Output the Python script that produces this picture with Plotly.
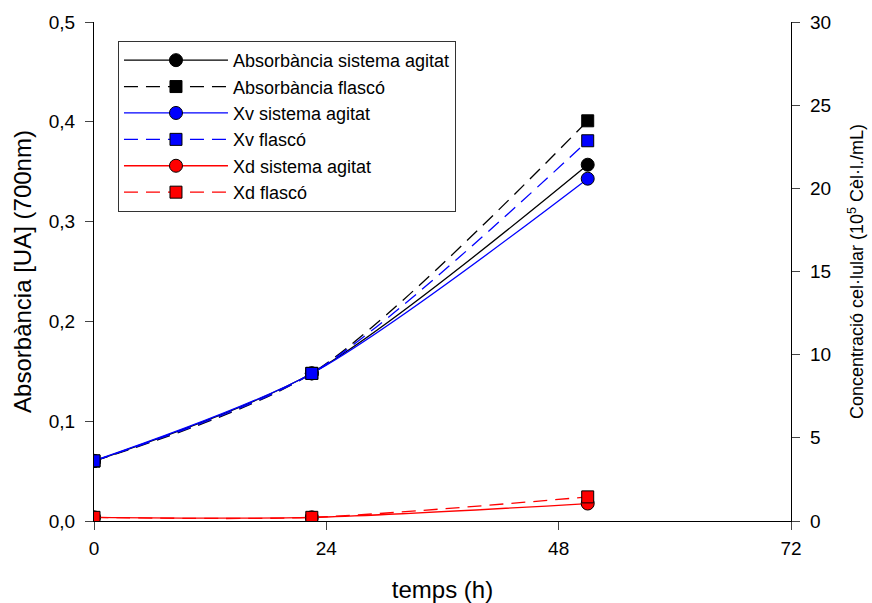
import plotly.graph_objects as go

# Sampling times (h)
temps = [0, 22.5, 51]

# Absorbance at 700 nm (UA)
abs_agitat = [0.060, 0.148, 0.357]
abs_flasco = [0.060, 0.148, 0.401]

# Cell concentration (10^5 cells/mL)
xv_agitat = [3.62, 8.87, 20.58]
xv_flasco = [3.62, 8.87, 22.86]
xd_agitat = [0.22, 0.22, 1.05]
xd_flasco = [0.22, 0.22, 1.45]

series = [
    ("Absorbància sistema agitat", abs_agitat, "y", "black", "solid", "circle"),
    ("Absorbància flascó", abs_flasco, "y", "black", "14px,8px", "square"),
    ("Xv sistema agitat", xv_agitat, "y2", "#0000ff", "solid", "circle"),
    ("Xv flascó", xv_flasco, "y2", "#0000ff", "14px,8px", "square"),
    ("Xd sistema agitat", xd_agitat, "y2", "#ff0000", "solid", "circle"),
    ("Xd flascó", xd_flasco, "y2", "#ff0000", "14px,8px", "square"),
]

fig = go.Figure()
for name, vals, ax, col, dash, sym in series:
    fig.add_trace(go.Scatter(
        x=temps, y=vals, yaxis=ax, name=name, mode="lines+markers",
        line=dict(color=col, width=1.3, dash=dash, shape="spline", smoothing=0.8),
        marker=dict(symbol=sym, size=13 if sym == "circle" else 12, color=col,
                    line=dict(color="black", width=1)),
    ))

font = "Liberation Sans, Arial, sans-serif"
fig.update_layout(
    width=872, height=603,
    margin=dict(l=94, r=81, t=22, b=82),
    paper_bgcolor="white", plot_bgcolor="white",
    separators=", ",
    font=dict(family=font, size=19, color="black"),
    showlegend=True,
    legend=dict(x=0.0344, y=0.962, xanchor="left", yanchor="top",
                bordercolor="#333333", borderwidth=1, bgcolor="rgba(0,0,0,0)",
                font=dict(size=18), tracegroupgap=0, itemwidth=104),
    xaxis=dict(
        range=[0, 72], tickvals=[0, 24, 48, 72], ticks="outside", ticklen=8,
        ticklabelstandoff=2, automargin=False,
        showline=True, linecolor="black", linewidth=1.3, showgrid=False,
        zeroline=False, mirror=False,
        title=dict(text="temps (h)", font=dict(size=24), standoff=28),
    ),
    yaxis=dict(
        range=[0, 0.5], tickvals=[0, 0.1, 0.2, 0.3, 0.4, 0.5], tickformat=".1f",
        ticks="outside", ticklen=8, ticklabelstandoff=6, showline=True,
        automargin=False,
        linecolor="black", linewidth=1.3, showgrid=False, zeroline=False,
        title=dict(text="Absorbància [UA] (700nm)", font=dict(size=24), standoff=10),
    ),
    yaxis2=dict(
        range=[0, 30], tickvals=[0, 5, 10, 15, 20, 25, 30], overlaying="y",
        side="right", ticks="outside", ticklen=8, ticklabelstandoff=6,
        automargin=False,
        showline=True, linecolor="black", linewidth=1.3, showgrid=False,
        zeroline=False,
        title=dict(text="Concentració cel·lular (10<sup>5</sup> Cèl·l./mL)",
                   font=dict(size=18), standoff=20),
    ),
)

fig.write_html("out.html")
